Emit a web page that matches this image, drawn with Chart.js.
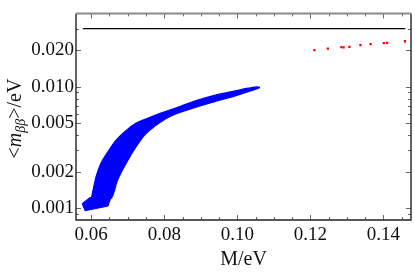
<!DOCTYPE html>
<html><head><meta charset="utf-8">
<script src="https://cdn.jsdelivr.net/npm/chart.js@4.4.1/dist/chart.umd.min.js"></script>
<style>html,body{margin:0;padding:0;background:#fff;overflow:hidden}canvas{display:block}</style>
</head><body>
<canvas id="c" width="415" height="272"></canvas>
<script>
// ---- data ----
const bandUpperM   = [0.0601,0.0613,0.0626,0.0645,0.0667,0.0695,0.0722,0.0749,0.0776,0.0803,0.0831,0.0885,0.0940,0.0994,0.1030,0.1053,0.1062];
const bandUpperMbb = [0.001237,0.001813,0.002333,0.002903,0.003618,0.004368,0.005010,0.005443,0.005870,0.006281,0.006697,0.007685,0.008552,0.009275,0.009758,0.01,0.009906];
const bandLowerM   = [0.0601,0.0654,0.0672,0.0695,0.0722,0.0749,0.0776,0.0803,0.0831,0.0885,0.0940,0.0994,0.1030,0.1058,0.1062];
const bandLowerMbb = [0.001237,0.001207,0.001703,0.002333,0.003189,0.004104,0.004799,0.005443,0.005980,0.006772,0.007584,0.008440,0.009153,0.009758,0.009906];
const lumpUpperM   = [0.0575,0.0596,0.0653];
const lumpUpperMbb = [0.001094,0.001226,0.001207];
const lumpLowerM   = [0.0575,0.0583,0.0646,0.0653];
const lumpLowerMbb = [0.001094,0.000956,0.001044,0.001207];
const gapAM = [0.0746,0.0778], gapAMbb = [0.005272,0.005443];
const gapBM = [0.0760,0.0792], gapBMbb = [0.005048,0.005272];
const gapCM = [0.0605,0.0645], gapCMbb = [0.001214,0.001229];
const redM   = [0.1211,0.1248,0.1285,0.1291,0.1307,0.1337,0.1365,0.1401,0.1410,0.1459];
const redMbb = [0.02007,0.0207,0.02124,0.02112,0.02136,0.02205,0.02247,0.0229,0.02303,0.02377];
const limitM = [0.0577,0.1460], limitMbb = [0.0302,0.0302];
const xTicks = [0.06,0.08,0.10,0.12,0.14];
const xTickLabels = ['0.06','0.08','0.10','0.12','0.14'];
const xMinorTicks = [0.065,0.07,0.075,0.085,0.09,0.095,0.105,0.11,0.115,0.125,0.13,0.135,0.145];
const yTicks = [0.001,0.002,0.005,0.01,0.02];
const yTickLabels = ['0.001','0.002','0.005','0.010','0.020'];
const yMinorTicks = [0.0009,0.003,0.004,0.006,0.007,0.008,0.009,0.03];

const pts = (xs, ys) => xs.map((v,i)=>({x:v, y:ys[i]}));
const SERIF = '"Liberation Serif","Times New Roman",serif';

const frameTicks = {
  id:'frameTicks',
  afterDatasetsDraw(chart){
    const {ctx, chartArea:a, scales:{x,y}} = chart;
    ctx.save();
    ctx.strokeStyle = '#666'; ctx.lineWidth = 1;
    const tx = (v,len)=>{const p=Math.round(x.getPixelForValue(v))+0.5;ctx.beginPath();ctx.moveTo(p,a.bottom);ctx.lineTo(p,a.bottom-len);ctx.moveTo(p,a.top);ctx.lineTo(p,a.top+len);ctx.stroke();};
    const ty = (v,len)=>{const p=Math.round(y.getPixelForValue(v))+0.5;ctx.beginPath();ctx.moveTo(a.left,p);ctx.lineTo(a.left+len,p);ctx.moveTo(a.right,p);ctx.lineTo(a.right-len,p);ctx.stroke();};
    xTicks.forEach(v=>tx(v,5)); xMinorTicks.forEach(v=>tx(v,3));
    yTicks.forEach(v=>ty(v,5)); yMinorTicks.forEach(v=>ty(v,3));
    ctx.lineWidth = 1.4; ctx.strokeStyle = '#222';
    ctx.beginPath();
    ctx.moveTo(a.left, a.top); ctx.lineTo(a.left, a.bottom); ctx.lineTo(a.right, a.bottom); ctx.lineTo(a.right, a.top);
    ctx.stroke();
    ctx.strokeStyle = '#8a8a8a'; ctx.lineWidth = 2;
    ctx.beginPath(); ctx.moveTo(a.left, a.top); ctx.lineTo(a.right, a.top); ctx.stroke();
    ctx.restore();
  }
};

const yTitle = {
  id:'yTitle',
  afterDraw(chart){
    const ctx = chart.ctx; ctx.save();
    const parts = [
      {t:'<', f:'20px '+SERIF, dy:0},
      {t:'m', f:'italic 20px '+SERIF, dy:0},
      {t:'ββ', f:'italic 14px '+SERIF, dy:4},
      {t:'>/eV', f:'20px '+SERIF, dy:0}
    ];
    let total = 0;
    parts.forEach(p=>{ctx.font=p.f; p.w=ctx.measureText(p.t).width; total+=p.w;});
    ctx.translate(20.5, 118.5 + total/2);
    ctx.rotate(-Math.PI/2);
    ctx.fillStyle = '#111'; ctx.textBaseline = 'alphabetic';
    let xx = 0;
    parts.forEach(p=>{ctx.font=p.f; ctx.fillText(p.t, xx, p.dy); xx+=p.w;});
    ctx.restore();
  }
};

const blue = '#0000ff';
const bandStyle = {showLine:true, borderColor:blue, borderWidth:1.2, pointRadius:0, cubicInterpolationMode:'monotone'};
new Chart(document.getElementById('c'), {
  type:'scatter',
  data:{datasets:[
    Object.assign({data: pts(bandUpperM, bandUpperMbb), fill:'+1', backgroundColor:blue}, bandStyle),
    Object.assign({data: pts(bandLowerM, bandLowerMbb), fill:false}, bandStyle),
    {data: pts(lumpUpperM, lumpUpperMbb), showLine:true, fill:'+1', backgroundColor:blue, borderColor:blue, borderWidth:1, pointRadius:0},
    {data: pts(lumpLowerM, lumpLowerMbb), showLine:true, fill:false, borderColor:blue, borderWidth:1, pointRadius:0},
    {data: pts(gapAM, gapAMbb), showLine:true, fill:false, borderColor:'#fff', borderWidth:1.2, pointRadius:0},
    {data: pts(gapBM, gapBMbb), showLine:true, fill:false, borderColor:'#fff', borderWidth:1.2, pointRadius:0},
    {data: pts(gapCM, gapCMbb), showLine:true, fill:false, borderColor:'#fff', borderWidth:1, pointRadius:0},
    {data: pts(redM, redMbb), pointStyle:'rect', pointRadius:1.6, backgroundColor:'#ff0000', borderColor:'#ff0000', borderWidth:0},
    {data: pts(limitM, limitMbb), showLine:true, fill:false, borderColor:'#000', borderWidth:1.4, pointRadius:0}
  ]},
  options:{
    responsive:false, animation:false, devicePixelRatio:1,
    layout:{padding:{left:0, top:12, right:2, bottom:0}},
    plugins:{legend:{display:false}, tooltip:{enabled:false}},
    scales:{
      x:{type:'linear', min:0.05583, max:0.14755,
        afterBuildTicks:s=>{s.ticks = xTicks.map(v=>({value:v}));},
        afterFit:s=>{s.height = 52;},
        grid:{display:false, drawTicks:false}, border:{display:false},
        ticks:{padding:4, color:'#111', font:{family:SERIF, size:19}, maxRotation:0, autoSkip:false,
          callback:(v)=>{const i=xTicks.findIndex(t=>Math.abs(t-v)<1e-9); return i>=0?xTickLabels[i]:'';}},
        title:{display:true, text:'M/eV', color:'#111', font:{family:SERIF, size:20}, padding:{top:0,bottom:0}}
      },
      y:{type:'logarithmic', min:0.000802, max:0.0403,
        afterBuildTicks:s=>{s.ticks = yTicks.map(v=>({value:v}));},
        afterFit:s=>{s.width = 76;},
        grid:{display:false, drawTicks:false}, border:{display:false},
        ticks:{padding:2, color:'#111', font:{family:SERIF, size:19}, autoSkip:false,
          callback:(v)=>{const i=yTicks.findIndex(t=>Math.abs(t-v)<1e-12); return i>=0?yTickLabels[i]:'';}}
      }
    }
  },
  plugins:[frameTicks, yTitle]
});
</script></body></html>
